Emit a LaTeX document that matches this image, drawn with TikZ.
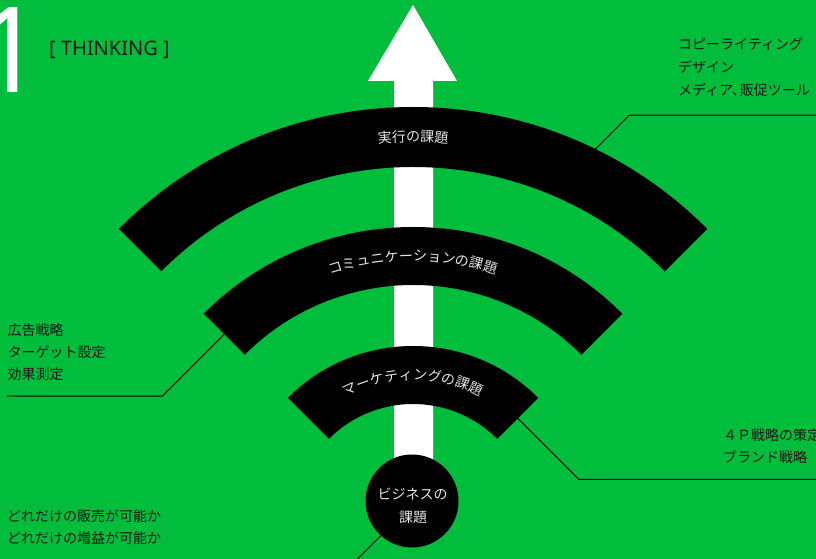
\documentclass[tikz,border=0pt]{standalone}
\usepackage{fontspec}
\setmainfont{Noto Sans}
\newfontfamily\jp{Noto Sans CJK JP}
\usetikzlibrary{decorations.text,calc}
\definecolor{bg}{RGB}{0,190,60}
\definecolor{ink}{RGB}{22,22,22}
\definecolor{arctext}{RGB}{228,228,228}
\newcommand\arcfont{\jp\fontsize{14}{14}\selectfont}
\tikzset{
  lbl/.style={font=\jp\fontsize{14}{14}\selectfont, text=ink, inner sep=0pt, anchor=base west},
  leader/.style={draw=black, line width=1pt},
  band/.style={fill=black},
  arctxt/.style={decorate, decoration={text along path, text align=center, text color=arctext, text={|\arcfont|#1}}},
  biztxt/.style={font=\jp\fontsize{14}{14}\selectfont, text=arctext, inner sep=0pt, anchor=base}
}
\begin{document}
\begin{tikzpicture}[x=1pt,y=1pt]
\useasboundingbox (0,0) rectangle (816,559);
\fill[bg] (0,0) rectangle (816,559);
\clip (0,0) rectangle (816,559);

% title
\node[font=\fontsize{119}{119}\selectfont, text=white, anchor=base west, inner sep=0pt] (num) at (-25,466) {1};
\node[font=\fontsize{20}{20}\selectfont, text=ink, anchor=base west, inner sep=0pt] (ttl) at (49,503) {[ THINKING ]};

% arrow
\fill[white] (394,80) -- (394,478) -- (368,478) -- (413,554) -- (457,478) -- (433,478) -- (433,80) -- cycle;

% bands
\coordinate (C) at (413,36);
\foreach \ri/\ro in {356/416, 238/296, 119/177}
  \fill[band, shift={(C)}] (45:\ro) arc[start angle=45, end angle=135, radius=\ro]
     -- (135:\ri) arc[start angle=135, end angle=45, radius=\ri] -- cycle;

% curved labels
\path[shift={(C)}, arctxt={実行の課題}] (135:381) arc[start angle=135, end angle=45, radius=381];
\path[shift={(C)}, arctxt={コミュニケーションの課題}] (135:262) arc[start angle=135, end angle=45, radius=262];
\path[shift={(C)}, arctxt={マーケティングの課題}] (135:143) arc[start angle=135, end angle=45, radius=143];

% business circle
\node[circle, fill=black, minimum size=93pt, inner sep=0pt] (biz) at (412,58) {};
\node[biztxt] (bz1) at (412.5,59) {ビジネスの};
\node[biztxt] (bz2) at (413,36) {課題};

% leaders
\coordinate (p1) at ($(C)+(64:416)$);
\coordinate (k1) at ($(p1)+(34,34)$);
\coordinate (e1) at ($(k1)+(200,0)$);
\draw[leader] (p1) -- (k1) -- (e1);

\coordinate (p2) at ($(C)+(135:267)$);
\coordinate (k2) at ($(p2)+(-62,-62)$);
\coordinate (e2) at ($(k2)+(-155.4,0)$);
\draw[leader] (p2) -- (k2) -- (e2);

\coordinate (p3) at ($(C)+(45:148)$);
\coordinate (k3) at ($(p3)+(61,-61)$);
\coordinate (e3) at ($(k3)+(250,0)$);
\draw[leader] (p3) -- (k3) -- (e3);

\coordinate (e4) at ($(biz.228)+(-40,-40)$);
\draw[leader] (biz.228) -- (e4);

% side texts
\node[lbl] (t1a) at (678,509) {コピーライティング};
\node[lbl] (t1b) at (678,486) {デザイン};
\node[lbl] (t1c) at (678,463) {メディア、\kern-6pt販促ツール};

\node[lbl] (t2a) at (7.5,223) {広告戦略};
\node[lbl] (t2b) at (7.5,201) {ターゲット設定};
\node[lbl] (t2c) at (7.5,179) {効果測定};

\node[lbl] (t3a) at (723,118) {４Ｐ戦略の策定};
\node[lbl] (t3b) at (723,96) {ブランド戦略};

\node[lbl] (t4a) at (7,37) {どれだけの販売が可能か};
\node[lbl] (t4b) at (7,15) {どれだけの増益が可能か};
\end{tikzpicture}
\end{document}
